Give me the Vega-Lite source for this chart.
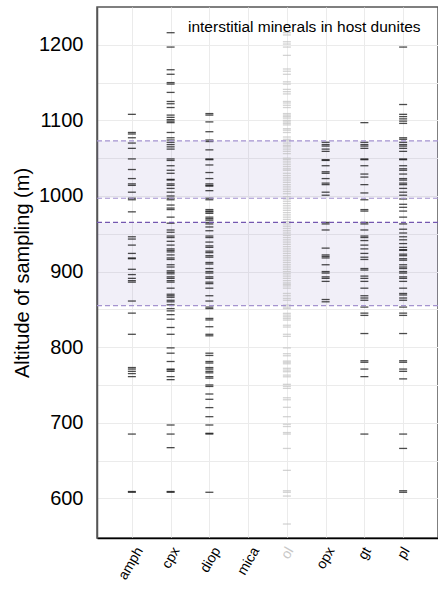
{
  "$schema": "https://vega.github.io/schema/vega-lite/v6.json",
  "width": 341,
  "height": 531,
  "autosize": {"type": "none"},
  "padding": {"left": 97, "top": 7, "right": 0, "bottom": 52},
  "background": "white",
  "config": {
    "font": "Liberation Sans",
    "view": {"stroke": "#555555", "strokeWidth": 1.5},
    "axis": {"gridColor": "#ebebeb", "gridWidth": 1, "ticks": false, "tickSize": 0, "labelColor": "#000000", "titleColor": "#000000", "titleFontWeight": "normal"}
  },
  "title": {"text": "interstitial minerals in host dunites", "anchor": "end", "orient": "top", "baseline": "alphabetic", "offset": -40, "dx": -18, "fontSize": 15.5, "fontWeight": "normal", "color": "#000000", "font": "Liberation Sans"},
  "datasets": {
    "bands": [{"lo": 855, "hi": 965}, {"lo": 997, "hi": 1073}],
    "lines": [{"v": 855, "k": "light"}, {"v": 965, "k": "dark"}, {"v": 997, "k": "light"}, {"v": 1073, "k": "light"}],
    "samples": [
      {"m":"amph","a":1108},{"m":"amph","a":1084},{"m":"amph","a":1082},{"m":"amph","a":1077},{"m":"amph","a":1070},{"m":"amph","a":1063},{"m":"amph","a":1049},{"m":"amph","a":1035},{"m":"amph","a":1023},{"m":"amph","a":1016},{"m":"amph","a":1014},{"m":"amph","a":1005},{"m":"amph","a":997},{"m":"amph","a":995},{"m":"amph","a":979},{"m":"amph","a":946},{"m":"amph","a":943},{"m":"amph","a":935},{"m":"amph","a":924},{"m":"amph","a":918},{"m":"amph","a":917},{"m":"amph","a":903},{"m":"amph","a":896},{"m":"amph","a":891},{"m":"amph","a":888},{"m":"amph","a":886},{"m":"amph","a":861},{"m":"amph","a":845},{"m":"amph","a":817},{"m":"amph","a":773},{"m":"amph","a":771},{"m":"amph","a":768},{"m":"amph","a":765},{"m":"amph","a":761},{"m":"amph","a":685},{"m":"amph","a":609},{"m":"amph","a":608},
      {"m":"cpx","a":1216},{"m":"cpx","a":1197},{"m":"cpx","a":1167},{"m":"cpx","a":1161},{"m":"cpx","a":1150},{"m":"cpx","a":1148},{"m":"cpx","a":1137},{"m":"cpx","a":1125},{"m":"cpx","a":1122},{"m":"cpx","a":1117},{"m":"cpx","a":1107},{"m":"cpx","a":1104},{"m":"cpx","a":1101},{"m":"cpx","a":1099},{"m":"cpx","a":1097},{"m":"cpx","a":1084},{"m":"cpx","a":1077},{"m":"cpx","a":1074},{"m":"cpx","a":1071},{"m":"cpx","a":1068},{"m":"cpx","a":1065},{"m":"cpx","a":1062},{"m":"cpx","a":1049},{"m":"cpx","a":1047},{"m":"cpx","a":1040},{"m":"cpx","a":1034},{"m":"cpx","a":1030},{"m":"cpx","a":1022},{"m":"cpx","a":1021},{"m":"cpx","a":1016},{"m":"cpx","a":1014},{"m":"cpx","a":1010},{"m":"cpx","a":1005},{"m":"cpx","a":1000},{"m":"cpx","a":997},{"m":"cpx","a":995},{"m":"cpx","a":988},{"m":"cpx","a":984},{"m":"cpx","a":982},{"m":"cpx","a":972},{"m":"cpx","a":964},{"m":"cpx","a":955},{"m":"cpx","a":952},{"m":"cpx","a":947},{"m":"cpx","a":945},{"m":"cpx","a":940},{"m":"cpx","a":935},{"m":"cpx","a":930},{"m":"cpx","a":928},{"m":"cpx","a":926},{"m":"cpx","a":922},{"m":"cpx","a":918},{"m":"cpx","a":916},{"m":"cpx","a":909},{"m":"cpx","a":906},{"m":"cpx","a":901},{"m":"cpx","a":899},{"m":"cpx","a":897},{"m":"cpx","a":893},{"m":"cpx","a":891},{"m":"cpx","a":888},{"m":"cpx","a":886},{"m":"cpx","a":878},{"m":"cpx","a":870},{"m":"cpx","a":868},{"m":"cpx","a":866},{"m":"cpx","a":862},{"m":"cpx","a":860},{"m":"cpx","a":856},{"m":"cpx","a":851},{"m":"cpx","a":848},{"m":"cpx","a":843},{"m":"cpx","a":837},{"m":"cpx","a":826},{"m":"cpx","a":817},{"m":"cpx","a":799},{"m":"cpx","a":792},{"m":"cpx","a":781},{"m":"cpx","a":771},{"m":"cpx","a":770},{"m":"cpx","a":768},{"m":"cpx","a":761},{"m":"cpx","a":757},{"m":"cpx","a":697},{"m":"cpx","a":685},{"m":"cpx","a":667},{"m":"cpx","a":609},{"m":"cpx","a":608},
      {"m":"diop","a":1109},{"m":"diop","a":1107},{"m":"diop","a":1098},{"m":"diop","a":1085},{"m":"diop","a":1074},{"m":"diop","a":1072},{"m":"diop","a":1061},{"m":"diop","a":1049},{"m":"diop","a":1048},{"m":"diop","a":1041},{"m":"diop","a":1031},{"m":"diop","a":1023},{"m":"diop","a":1016},{"m":"diop","a":1014},{"m":"diop","a":1013},{"m":"diop","a":1007},{"m":"diop","a":997},{"m":"diop","a":995},{"m":"diop","a":982},{"m":"diop","a":980},{"m":"diop","a":979},{"m":"diop","a":977},{"m":"diop","a":972},{"m":"diop","a":970},{"m":"diop","a":968},{"m":"diop","a":965},{"m":"diop","a":963},{"m":"diop","a":959},{"m":"diop","a":954},{"m":"diop","a":947},{"m":"diop","a":945},{"m":"diop","a":939},{"m":"diop","a":934},{"m":"diop","a":932},{"m":"diop","a":927},{"m":"diop","a":925},{"m":"diop","a":921},{"m":"diop","a":919},{"m":"diop","a":912},{"m":"diop","a":910},{"m":"diop","a":904},{"m":"diop","a":900},{"m":"diop","a":898},{"m":"diop","a":893},{"m":"diop","a":891},{"m":"diop","a":886},{"m":"diop","a":884},{"m":"diop","a":878},{"m":"diop","a":868},{"m":"diop","a":861},{"m":"diop","a":853},{"m":"diop","a":851},{"m":"diop","a":838},{"m":"diop","a":836},{"m":"diop","a":827},{"m":"diop","a":817},{"m":"diop","a":815},{"m":"diop","a":792},{"m":"diop","a":789},{"m":"diop","a":781},{"m":"diop","a":779},{"m":"diop","a":773},{"m":"diop","a":771},{"m":"diop","a":768},{"m":"diop","a":766},{"m":"diop","a":761},{"m":"diop","a":759},{"m":"diop","a":750},{"m":"diop","a":748},{"m":"diop","a":738},{"m":"diop","a":731},{"m":"diop","a":720},{"m":"diop","a":708},{"m":"diop","a":697},{"m":"diop","a":686},{"m":"diop","a":685},{"m":"diop","a":608},
      {"m":"ol","a":1216},{"m":"ol","a":1213},{"m":"ol","a":1204},{"m":"ol","a":1201},{"m":"ol","a":1197},{"m":"ol","a":1186},{"m":"ol","a":1168},{"m":"ol","a":1165},{"m":"ol","a":1161},{"m":"ol","a":1151},{"m":"ol","a":1148},{"m":"ol","a":1141},{"m":"ol","a":1138},{"m":"ol","a":1135},{"m":"ol","a":1125},{"m":"ol","a":1123},{"m":"ol","a":1120},{"m":"ol","a":1117},{"m":"ol","a":1109},{"m":"ol","a":1107},{"m":"ol","a":1105},{"m":"ol","a":1103},{"m":"ol","a":1100},{"m":"ol","a":1098},{"m":"ol","a":1096},{"m":"ol","a":1094},{"m":"ol","a":1089},{"m":"ol","a":1087},{"m":"ol","a":1084},{"m":"ol","a":1078},{"m":"ol","a":1075},{"m":"ol","a":1073},{"m":"ol","a":1070},{"m":"ol","a":1067},{"m":"ol","a":1065},{"m":"ol","a":1062},{"m":"ol","a":1059},{"m":"ol","a":1056},{"m":"ol","a":1050},{"m":"ol","a":1048},{"m":"ol","a":1045},{"m":"ol","a":1042},{"m":"ol","a":1039},{"m":"ol","a":1036},{"m":"ol","a":1034},{"m":"ol","a":1030},{"m":"ol","a":1027},{"m":"ol","a":1024},{"m":"ol","a":1021},{"m":"ol","a":1018},{"m":"ol","a":1015},{"m":"ol","a":1012},{"m":"ol","a":1009},{"m":"ol","a":1006},{"m":"ol","a":1003},{"m":"ol","a":999},{"m":"ol","a":996},{"m":"ol","a":993},{"m":"ol","a":990},{"m":"ol","a":987},{"m":"ol","a":984},{"m":"ol","a":981},{"m":"ol","a":978},{"m":"ol","a":975},{"m":"ol","a":972},{"m":"ol","a":969},{"m":"ol","a":966},{"m":"ol","a":963},{"m":"ol","a":960},{"m":"ol","a":957},{"m":"ol","a":954},{"m":"ol","a":951},{"m":"ol","a":948},{"m":"ol","a":945},{"m":"ol","a":942},{"m":"ol","a":939},{"m":"ol","a":936},{"m":"ol","a":933},{"m":"ol","a":930},{"m":"ol","a":927},{"m":"ol","a":924},{"m":"ol","a":921},{"m":"ol","a":918},{"m":"ol","a":915},{"m":"ol","a":912},{"m":"ol","a":909},{"m":"ol","a":906},{"m":"ol","a":903},{"m":"ol","a":900},{"m":"ol","a":897},{"m":"ol","a":894},{"m":"ol","a":891},{"m":"ol","a":888},{"m":"ol","a":885},{"m":"ol","a":883},{"m":"ol","a":881},{"m":"ol","a":878},{"m":"ol","a":871},{"m":"ol","a":868},{"m":"ol","a":864.5},{"m":"ol","a":862},{"m":"ol","a":855.7},{"m":"ol","a":853},{"m":"ol","a":851},{"m":"ol","a":844.7},{"m":"ol","a":842.4},{"m":"ol","a":840.2},{"m":"ol","a":838},{"m":"ol","a":835.8},{"m":"ol","a":829},{"m":"ol","a":826.6},{"m":"ol","a":817},{"m":"ol","a":814.3},{"m":"ol","a":799},{"m":"ol","a":791.3},{"m":"ol","a":788.6},{"m":"ol","a":781.6},{"m":"ol","a":780},{"m":"ol","a":778},{"m":"ol","a":772},{"m":"ol","a":769.7},{"m":"ol","a":767.5},{"m":"ol","a":763},{"m":"ol","a":760.8},{"m":"ol","a":750.8},{"m":"ol","a":748.2},{"m":"ol","a":745.5},{"m":"ol","a":733},{"m":"ol","a":730.4},{"m":"ol","a":720.4},{"m":"ol","a":708},{"m":"ol","a":698},{"m":"ol","a":695},{"m":"ol","a":687},{"m":"ol","a":685},{"m":"ol","a":666},{"m":"ol","a":637},{"m":"ol","a":610},{"m":"ol","a":608},{"m":"ol","a":603},{"m":"ol","a":566},
      {"m":"opx","a":1071},{"m":"opx","a":1068},{"m":"opx","a":1066},{"m":"opx","a":1062},{"m":"opx","a":1059},{"m":"opx","a":1048},{"m":"opx","a":1047},{"m":"opx","a":1040},{"m":"opx","a":1032},{"m":"opx","a":1030},{"m":"opx","a":1023},{"m":"opx","a":1017},{"m":"opx","a":1015},{"m":"opx","a":1005},{"m":"opx","a":1001},{"m":"opx","a":965},{"m":"opx","a":963},{"m":"opx","a":955},{"m":"opx","a":931},{"m":"opx","a":922},{"m":"opx","a":920},{"m":"opx","a":918},{"m":"opx","a":909},{"m":"opx","a":900},{"m":"opx","a":898},{"m":"opx","a":893},{"m":"opx","a":891},{"m":"opx","a":887},{"m":"opx","a":863},{"m":"opx","a":860},
      {"m":"gt","a":1097},{"m":"gt","a":1071},{"m":"gt","a":1068},{"m":"gt","a":1066},{"m":"gt","a":1063},{"m":"gt","a":1049},{"m":"gt","a":1048},{"m":"gt","a":1040},{"m":"gt","a":1029},{"m":"gt","a":1025},{"m":"gt","a":1015},{"m":"gt","a":1004},{"m":"gt","a":995},{"m":"gt","a":982},{"m":"gt","a":980},{"m":"gt","a":965},{"m":"gt","a":963},{"m":"gt","a":955},{"m":"gt","a":947},{"m":"gt","a":945},{"m":"gt","a":941},{"m":"gt","a":935},{"m":"gt","a":930},{"m":"gt","a":924},{"m":"gt","a":919},{"m":"gt","a":916},{"m":"gt","a":904},{"m":"gt","a":902},{"m":"gt","a":894},{"m":"gt","a":891},{"m":"gt","a":887},{"m":"gt","a":878},{"m":"gt","a":868},{"m":"gt","a":865},{"m":"gt","a":862},{"m":"gt","a":853},{"m":"gt","a":845},{"m":"gt","a":842},{"m":"gt","a":818},{"m":"gt","a":782},{"m":"gt","a":780},{"m":"gt","a":771},{"m":"gt","a":761},{"m":"gt","a":685},
      {"m":"pl","a":1197},{"m":"pl","a":1121},{"m":"pl","a":1108},{"m":"pl","a":1105},{"m":"pl","a":1102},{"m":"pl","a":1099},{"m":"pl","a":1096},{"m":"pl","a":1077},{"m":"pl","a":1075},{"m":"pl","a":1071},{"m":"pl","a":1068},{"m":"pl","a":1066},{"m":"pl","a":1063},{"m":"pl","a":1059},{"m":"pl","a":1049},{"m":"pl","a":1048},{"m":"pl","a":1040},{"m":"pl","a":1036},{"m":"pl","a":1034},{"m":"pl","a":1029},{"m":"pl","a":1023},{"m":"pl","a":1021},{"m":"pl","a":1017},{"m":"pl","a":1015},{"m":"pl","a":1010},{"m":"pl","a":1005},{"m":"pl","a":1001},{"m":"pl","a":996},{"m":"pl","a":989},{"m":"pl","a":985},{"m":"pl","a":980},{"m":"pl","a":972},{"m":"pl","a":963},{"m":"pl","a":956},{"m":"pl","a":951},{"m":"pl","a":946},{"m":"pl","a":942},{"m":"pl","a":937},{"m":"pl","a":932},{"m":"pl","a":929},{"m":"pl","a":928},{"m":"pl","a":923},{"m":"pl","a":921},{"m":"pl","a":917},{"m":"pl","a":915},{"m":"pl","a":909},{"m":"pl","a":906},{"m":"pl","a":904},{"m":"pl","a":900},{"m":"pl","a":898},{"m":"pl","a":893},{"m":"pl","a":891},{"m":"pl","a":887},{"m":"pl","a":878},{"m":"pl","a":871},{"m":"pl","a":869},{"m":"pl","a":865},{"m":"pl","a":862},{"m":"pl","a":853},{"m":"pl","a":845},{"m":"pl","a":842},{"m":"pl","a":818},{"m":"pl","a":782},{"m":"pl","a":780},{"m":"pl","a":771},{"m":"pl","a":768},{"m":"pl","a":758},{"m":"pl","a":685},{"m":"pl","a":666},{"m":"pl","a":610},{"m":"pl","a":608}
    ]
  },
  "layer": [
    {
      "data": {"name": "bands"},
      "mark": {"type": "rect", "color": "#7a66b8", "opacity": 0.1},
      "encoding": {
        "y": {"field": "lo", "type": "quantitative", "scale": {"domain": [547.5, 1250], "nice": false, "zero": false}},
        "y2": {"field": "hi"}
      }
    },
    {
      "data": {"name": "samples"},
      "mark": {"type": "tick", "size": 8, "thickness": 1.3, "opacity": 0.7},
      "encoding": {
        "x": {
          "field": "m", "type": "nominal",
          "scale": {"type": "point", "domain": ["amph", "cpx", "diop", "mica", "ol", "opx", "gt", "pl"], "padding": 0.9},
          "axis": {
            "title": null, "grid": true, "domainColor": "#000000", "domainWidth": 1.5,
            "labelAngle": -60, "labelAlign": "right", "labelBaseline": "middle", "labelFontSize": 14, "labelPadding": 10,
            "labelOffset": {"condition": [{"test": "length(datum.label) <= 2", "value": 3}, {"test": "length(datum.label) == 3", "value": 5.5}], "value": 7.5},
            "labelColor": {"condition": {"test": "datum.value == 'ol'", "value": "#c8c8c8"}, "value": "#000000"}
          }
        },
        "y": {
          "field": "a", "type": "quantitative",
          "scale": {"domain": [547.5, 1250], "nice": false, "zero": false},
          "axis": {
            "title": "Altitude of sampling (m)", "titleFontSize": 20, "titlePadding": 6.5,
            "values": [600, 650, 700, 750, 800, 850, 900, 950, 1000, 1050, 1100, 1150, 1200],
            "labelExpr": "datum.value % 100 == 0 ? format(datum.value, 'd') : ''",
            "labelFontSize": 20, "labelPadding": 14, "domainColor": "#555555", "domainWidth": 1.5
          }
        },
        "color": {"condition": {"test": "datum.m == 'ol'", "value": "#c0c0c0"}, "value": "#000000"}
      }
    },
    {
      "data": {"name": "lines"},
      "mark": {"type": "rule", "strokeDash": [5, 3], "strokeWidth": 1.2},
      "encoding": {
        "y": {"field": "v", "type": "quantitative"},
        "color": {"field": "k", "type": "nominal", "scale": {"domain": ["light", "dark"], "range": ["#a493cf", "#7457b0"]}, "legend": null}
      }
    }
  ]
}
